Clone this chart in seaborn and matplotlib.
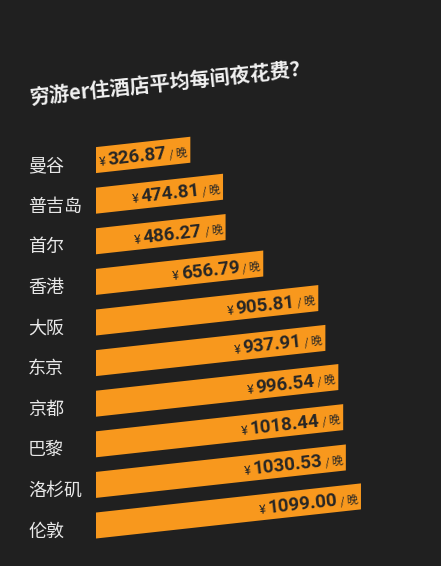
import numpy as np
import pandas as pd
import matplotlib
matplotlib.use('Agg')
import matplotlib.pyplot as plt
import seaborn as sns
from matplotlib.transforms import Affine2D, IdentityTransform

# %% data
cities = ['曼谷', '普吉岛', '首尔', '香港', '大阪', '东京', '京都', '巴黎', '洛杉矶', '伦敦']
prices = [326.87, 474.81, 486.27, 656.79, 905.81, 937.91, 996.54, 1018.44, 1030.53, 1099.00]
title = '穷游er住酒店平均每间夜花费？'

df = pd.DataFrame({'city': cities, 'price': prices})

bg = '#202020'
orange = '#f8981d'
dark = '#262626'
pad = 100            # bars start a bit left of zero, like the poster
px_per_unit = 0.221
slope = 0.11         # upward tilt of the bars
theta = np.degrees(np.arctan(slope))

sns.set_theme(style='white')
plt.rcParams['font.family'] = ['Noto Sans CJK SC', 'DejaVu Sans']

W, H = 441, 566
fig = plt.figure(figsize=(W / 100, H / 100), dpi=100, facecolor=bg)
ax = fig.add_axes([96 / W, (H - 558) / H, 345 / W, 438.5 / H])
ax.set_facecolor(bg)

sns.barplot(data=df, x='price', y='city', orient='h', color=orange,
            saturation=1, width=0.64, ax=ax)
ax.set_xlim(-pad, -pad + 345 / px_per_unit)
ax.set_ylim(9.8, -1)
ax.set_xticks([])
ax.set_yticks([])
ax.set_xlabel('')
ax.set_ylabel('')
sns.despine(ax=ax, left=True, bottom=True)

# shear the bars so their top/bottom edges rise to the right
x0 = ax.transData.transform((-pad, 0))[0]
skew = Affine2D().translate(-x0, 0).skew(0, np.arctan(slope)).translate(x0, 0)
for p in ax.patches:
    p.set_x(-pad)
    p.set_width(p.get_width() + pad)
    p.set_edgecolor('none')
    p.set_transform(ax.transData + skew)
    p.set_clip_on(False)

# city names on the left
for i, c in enumerate(cities):
    ax.text(-0.197, i + 0.15, c, transform=ax.get_yaxis_transform(),
            ha='left', va='center', fontsize=13, color='#e8e8e8')

# title
fig.text(30, H - 104, title, transform=IdentityTransform(), rotation=6,
         rotation_mode='anchor', ha='left', va='baseline',
         fontsize=14.5, fontweight='bold', color='#f2f2f2')

# value labels inside the bars
renderer = fig.canvas.get_renderer()
u = np.array([np.cos(np.arctan(slope)), np.sin(np.arctan(slope))])
n = np.array([-u[1], u[0]])
for i, v in enumerate(prices):
    xe, yc = ax.transData.transform((v, i))
    yc = yc + slope * (xe - x0)
    base = np.array([xe, yc]) - 3 * u - 6.5 * n
    pieces = [('/ 晚', dict(fontsize=8, family=['Noto Sans CJK SC']), 3),
              ('{:.2f}'.format(v), dict(fontsize=13.5, family=['Roboto'], fontweight='bold'), 2),
              ('¥', dict(fontsize=9, family=['Roboto', 'DejaVu Sans']), 0)]
    pos = base
    for s, kw, gap in pieces:
        t = fig.text(pos[0], pos[1], s, transform=IdentityTransform(),
                     ha='right', va='baseline', color=dark, **kw)
        w = t.get_window_extent(renderer).width
        t.set_rotation(theta)
        t.set_rotation_mode('anchor')
        pos = pos - (w + gap) * u

fig.savefig('out.png', dpi=100, facecolor=bg)
